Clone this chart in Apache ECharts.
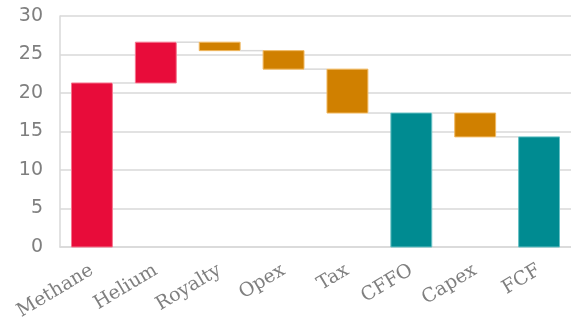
<!DOCTYPE html>
<html>
<head>
<meta charset="utf-8">
<script src="https://cdn.jsdelivr.net/npm/echarts@6/dist/echarts.min.js"></script>
<style>
  html, body { margin: 0; padding: 0; background: #fff; }
  #chart { width: 571px; height: 334px; }
</style>
</head>
<body>
<div id="chart"></div>
<script>
// Waterfall: revenue streams, deductions and the two subtotals
const categories = ['Methane', 'Helium', 'Royalty', 'Opex', 'Tax', 'CFFO', 'Capex', 'FCF'];
// Change for each step; subtotal steps hold their full level instead
const deltas = [21.3, 5.3, -1.1, -2.4, -5.7, 17.4, -3.1, 14.3];
// 'total' bars start from zero, 'step' bars float from the running level
const kinds = ['total', 'step', 'step', 'step', 'step', 'total', 'step', 'total'];
const yTicks = [0, 5, 10, 15, 20, 25, 30];

const colorRise = '#E80C3A';
const colorFall = '#D08000';
const colorTotal = '#008B91';

// Running start/end levels for each bar
const spans = [];
let level = 0;
for (let i = 0; i < deltas.length; i++) {
  let from, to;
  if (kinds[i] === 'total') { from = 0; to = deltas[i]; }
  else { from = level; to = level + deltas[i]; }
  level = to;
  spans.push([i, from, to]);
}

function fillFor(i) {
  if (kinds[i] === 'total') return i === 0 ? colorRise : colorTotal;
  return deltas[i] >= 0 ? colorRise : colorFall;
}
function edgeFor(i) {
  const c = fillFor(i);
  if (c === colorRise) return '#F5768F';
  if (c === colorFall) return '#F0B860';
  return '#66C0C4';
}

const chart = echarts.init(document.getElementById('chart'), null, { renderer: 'canvas' });
chart.setOption({
  animation: false,
  grid: { left: 60, right: -4, top: 16, bottom: 87 },
  xAxis: {
    type: 'category',
    data: categories,
    axisLine: { show: true, lineStyle: { color: '#d9d9d9', width: 1.5 } },
    axisTick: { show: false },
    axisLabel: {
      rotate: 31,
      interval: 0,
      margin: 22,
      color: '#7f7f7f',
      fontFamily: 'DejaVu Serif',
      fontSize: 19
    }
  },
  yAxis: {
    type: 'value',
    min: 0,
    max: 30,
    interval: 5,
    axisLine: { show: true, lineStyle: { color: '#d9d9d9', width: 1.5 } },
    axisTick: { show: false },
    splitLine: { lineStyle: { color: '#d9d9d9', width: 1.5 } },
    axisLabel: {
      margin: 17,
      color: '#7f7f7f',
      fontFamily: 'DejaVu Sans',
      fontSize: 19,
      formatter: v => (yTicks.indexOf(v) >= 0 ? String(v) : '')
    }
  },
  series: [{
    type: 'custom',
    data: spans,
    renderItem: function (params, api) {
      const i = api.value(0);
      const from = api.value(1);
      const to = api.value(2);
      const bandW = api.size([1, 0])[0];
      const barW = bandW * 0.64;
      const pTop = api.coord([i, Math.max(from, to)]);
      const pBot = api.coord([i, Math.min(from, to)]);
      const children = [{
        type: 'rect',
        shape: { x: pTop[0] - barW / 2, y: pTop[1], width: barW, height: pBot[1] - pTop[1] },
        style: { fill: fillFor(i), stroke: edgeFor(i), lineWidth: 1 }
      }];
      // connector to the next bar at the level this bar ends on
      if (i < spans.length - 1) {
        const p = api.coord([i, to]);
        children.push({
          type: 'line',
          shape: { x1: p[0] + barW / 2, y1: p[1], x2: p[0] + bandW - barW / 2, y2: p[1] },
          style: { stroke: '#d9d9d9', lineWidth: 1.5 }
        });
      }
      return { type: 'group', children: children };
    }
  }]
});
</script>
</body>
</html>
